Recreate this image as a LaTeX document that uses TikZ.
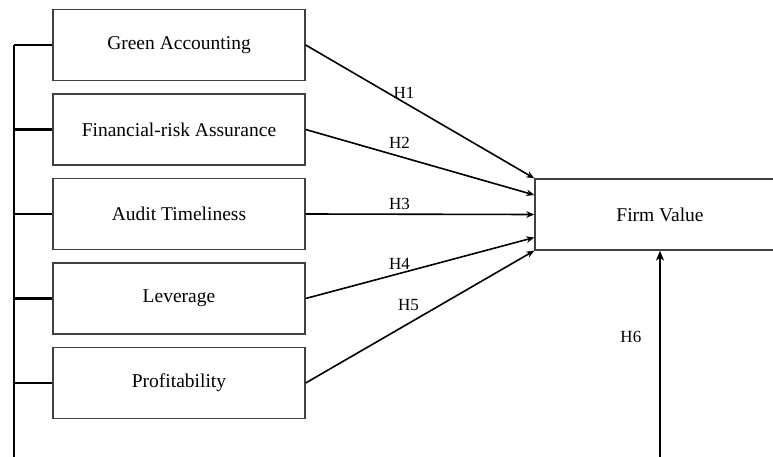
\documentclass[tikz,border=0pt]{standalone}
\usepackage{fontspec}
\setmainfont{Liberation Serif}
\usetikzlibrary{arrows.meta,positioning}

\begin{document}
\begin{tikzpicture}[
    x=1pt, y=1pt,
    node distance=84.5pt,
    >={Stealth[length=8pt,width=6.5pt,inset=2.5pt]},
    font=\fontsize{19.5}{22}\selectfont,
    factor/.style={
		rectangle,
		draw=black!75,
		line width=1.3pt,
		text centered,
		minimum width=252pt,
		minimum height=71pt,
		fill=white
	},
	hyp/.style={
		line width=1.6pt,
		->
	},
	hlabel/.style={
		font=\fontsize{17}{19}\selectfont
	}
  ]
  \useasboundingbox (0,0) rectangle (773,-457);
  \clip (0,0) rectangle (773,-457);

    % the five predictors, stacked
  \node [factor] (green) at (179,-45) {Green Accounting};
  \node [factor, below of=green] (finrisk) {Financial-risk Assurance};
  \node [factor, below of=finrisk] (audit) {Audit Timeliness};
  \node [factor, below of=audit] (lev) {Leverage};
  \node [factor, below of=lev] (prof) {Profitability};

    % the outcome, running off the right edge
  \node [factor, minimum width=250pt] (firm) at (660,-214.5) {Firm Value};

    % left bracket joining the predictors
  \coordinate (trunk) at (14,-45);
  \coordinate (trunkend) at (14,-460);
  \coordinate (h6start) at (660,-460);
  \draw [line width=2.3pt] (trunk) -- (trunkend);
  \foreach \n in {green,finrisk,audit,lev,prof}
    \draw [line width=2.3pt] (\n.west) -- (\n.west -| trunk);

    % hypotheses
  \draw [hyp] (green.east) -- node [hlabel, above, pos=0.43] {H1} (firm.north west);
  \draw [hyp] (finrisk.east) -- node [hlabel, above=4pt, pos=0.41] {H2} ([yshift=19.5pt]firm.west);
  \draw [hyp] (audit.east) -- node [hlabel, above, pos=0.41] {H3} (firm.west);
  \draw [hyp] (lev.east) -- node [hlabel, above, pos=0.41] {H4} ([yshift=-23pt]firm.west);
  \draw [hyp] (prof.east) -- node [hlabel, above=9pt, pos=0.45] {H5} (firm.south west);
  \draw [line width=2.8pt, -{Stealth[length=10pt,width=8pt,inset=3pt]}] (h6start) -- node [hlabel, left=14pt, pos=0.59] {H6} (firm.south);

\end{tikzpicture}
\end{document}
